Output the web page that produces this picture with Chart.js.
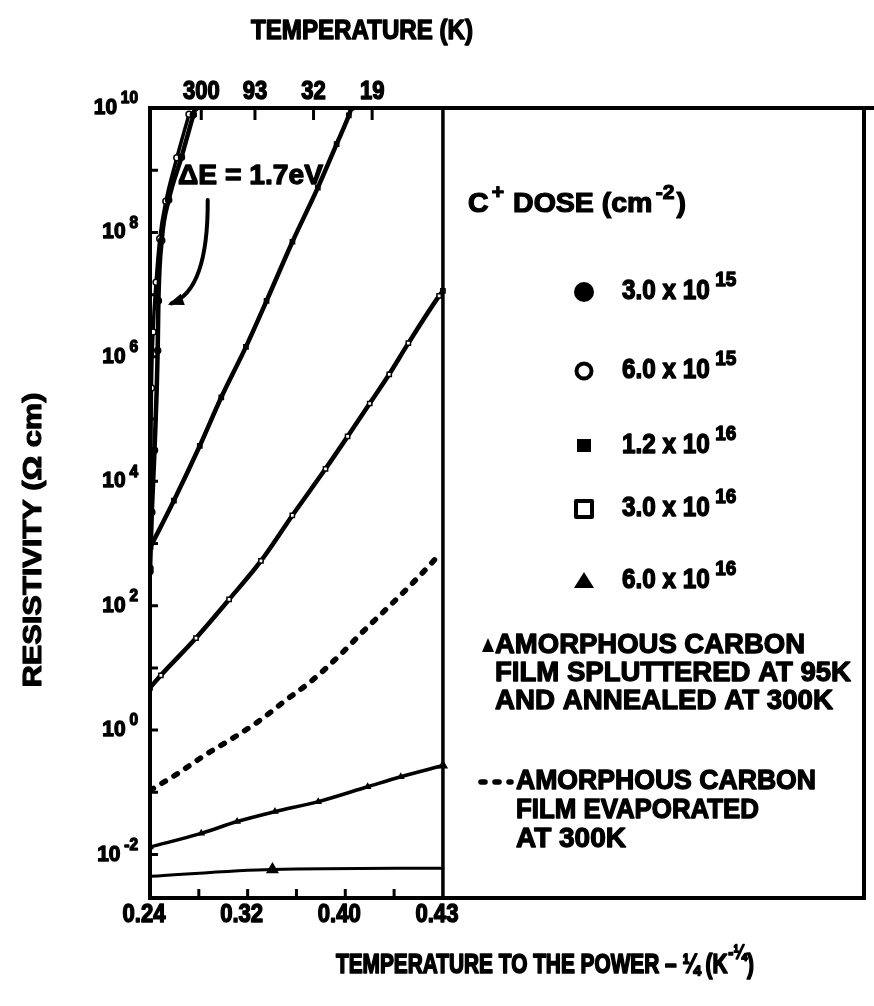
<!DOCTYPE html>
<html>
<head>
<meta charset="utf-8">
<title>Resistivity vs T^-1/4</title>
<script src="https://cdn.jsdelivr.net/npm/chart.js@4.4.1/dist/chart.umd.min.js"></script>
<style>
  html, body { margin: 0; padding: 0; background: #fff; }
  #wrap { position: relative; width: 874px; height: 1006px; }
</style>
</head>
<body>
<div id="wrap"><canvas id="c"></canvas></div>
<script>
// Values. x = T^-1/4 (K^-1/4), y given as log10 of resistivity (ohm cm).
const X_MIN = 0.24, X_EDGE = 0.48, X_MAX = 0.825;
const Y_MIN = 2e-3, Y_MAX = 1e10;

// 3.0e15 (filled circles) and 6.0e15 (open circles): the two steep curves at the left
const xDose1 = [0.2400, 0.2415, 0.2437, 0.2463, 0.2469, 0.2496, 0.2553, 0.2658, 0.2755, 0.2770];
const logDose1 = [2.55, 3.5, 4.5, 6.1, 6.9, 7.87, 8.52, 9.21, 9.89, 10.0];
const xDose2 = [0.2400, 0.2405, 0.2412, 0.2425, 0.2450, 0.2480, 0.2530, 0.2620, 0.2720];
const logDose2 = [2.6, 4.0, 5.5, 6.4, 7.2, 7.9, 8.5, 9.2, 9.9];
// 1.2e16 (filled squares)
const xDose3 = [0.2405, 0.2596, 0.2808, 0.2984, 0.3186, 0.3355, 0.3567, 0.3775, 0.3929, 0.4029, 0.4050];
const logDose3 = [2.95, 3.69, 4.57, 5.35, 6.16, 6.90, 7.85, 8.72, 9.42, 9.88, 10.0];
// 3.0e16 (open squares)
const xDose4 = [0.2400, 0.2489, 0.2777, 0.3048, 0.3309, 0.3566, 0.3838, 0.4019, 0.4200, 0.4360, 0.4517, 0.4769, 0.4800];
const logDose4 = [0.68, 0.88, 1.48, 2.10, 2.72, 3.45, 4.20, 4.72, 5.25, 5.72, 6.22, 6.98, 7.06];
// 6.0e16 (triangles)
const xDose5 = [0.2400, 0.2820, 0.3114, 0.3424, 0.3778, 0.4183, 0.4455, 0.4800];
const logDose5 = [-1.88, -1.66, -1.47, -1.31, -1.15, -0.91, -0.75, -0.57];
// amorphous carbon, sputtered at 95K, annealed at 300K
const xSputter = [0.2400, 0.3403, 0.4800];
const logSputter = [-2.35, -2.24, -2.22];
// amorphous carbon, evaporated at 300K (dashed)
const xEvap = [0.2400, 0.2618, 0.2860, 0.3078, 0.3288, 0.3506, 0.3723, 0.3963, 0.4148, 0.4365, 0.4570, 0.4723, 0.4760];
const logEvap = [-0.97, -0.71, -0.39, -0.13, 0.14, 0.47, 0.79, 1.22, 1.59, 2.00, 2.40, 2.72, 2.80];

// axes
const yTickExp = ['-2', '0', '2', '4', '6', '8', '10'];
const yMinorExp = [-2, -1, 0, 1, 2, 3, 4, 5, 6, 7, 8, 9];
const xTickVals = [0.24, 0.32, 0.40, 0.48];
const xTickLabels = ['0.24', '0.32', '0.40', '0.43'];
const xMinorVals = [0.28, 0.32, 0.36, 0.40, 0.44];
const tempTickVals = [0.282, 0.326, 0.374, 0.422];
const tempTickLabels = ['300', '93', '32', '19'];

// legend text
const doseLabels = ['3.0 x 10', '6.0 x 10', '1.2 x 10', '3.0 x 10', '6.0 x 10'];
const doseExps = ['15', '15', '16', '16', '16'];
const sputterLines = ['AMORPHOUS CARBON', 'FILM SPLUTTERED AT 95K', 'AND ANNEALED AT 300K'];
const evapLines = ['AMORPHOUS CARBON', 'FILM EVAPORATED', 'AT 300K'];

const FONT = "'Liberation Sans', Arial, sans-serif";
const INK = '#000';
const DOTS = [4, 10]; // short round-capped dashes of the evaporated-film curve

const pts = (xs, logs) => xs.map((x, i) => ({ x, y: Math.pow(10, logs[i]) }));

function curve(xs, logs, extra) {
  return Object.assign({
    data: pts(xs, logs), borderColor: INK, borderWidth: 4.5, tension: 0.3,
    cubicInterpolationMode: 'monotone', pointRadius: 3, pointBorderWidth: 1.5,
    pointBackgroundColor: INK, pointBorderColor: INK,
    borderCapStyle: 'round', borderJoinStyle: 'round',
  }, extra || {});
}

// heavy bold text in runs (base + superscripts), optionally squeezed to a width
function txt(ctx, runs, x, y, o) {
  const size = o.size, supK = o.sup || 0.74;
  const parts = runs.map(r => {
    const s = r.sup ? size * supK : size;
    ctx.font = 'bold ' + s + 'px ' + FONT;
    return { t: r.t, s, w: ctx.measureText(r.t).width, pre: r.pre || 0, dy: r.sup ? -size * 0.42 : 0 };
  });
  const nat = parts.reduce((a, p) => a + p.pre + p.w, 0);
  const sx = o.width ? o.width / nat : (o.sx || 1);
  const total = nat * sx;
  const x0 = o.align === 'center' ? x - total / 2 : o.align === 'right' ? x - total : x;
  ctx.save();
  ctx.translate(x0, y);
  ctx.scale(sx, 1);
  ctx.fillStyle = INK; ctx.strokeStyle = INK;
  ctx.lineWidth = (o.heavy == null ? 1.3 : o.heavy) / sx;
  ctx.lineJoin = 'round';
  ctx.textBaseline = 'middle';
  ctx.textAlign = 'left';
  let cx = 0;
  for (const p of parts) {
    cx += p.pre;
    ctx.font = 'bold ' + p.s + 'px ' + FONT;
    ctx.fillText(p.t, cx, p.dy);
    ctx.strokeText(p.t, cx, p.dy);
    cx += p.w;
  }
  ctx.restore();
}

function marker(ctx, kind, x, y) {
  ctx.save();
  ctx.fillStyle = INK; ctx.strokeStyle = INK; ctx.lineWidth = 4;
  ctx.beginPath();
  if (kind === 'dot') { ctx.arc(x, y, 10, 0, Math.PI * 2); ctx.fill(); }
  else if (kind === 'ring') { ctx.arc(x, y, 7.5, 0, Math.PI * 2); ctx.stroke(); }
  else if (kind === 'block') { ctx.fillRect(x - 7, y - 7, 14, 13); }
  else if (kind === 'box') { ctx.lineJoin = 'round'; ctx.strokeRect(x - 8, y - 8, 16, 16); }
  else if (kind === 'tri') { ctx.moveTo(x, y - 9); ctx.lineTo(x + 10, y + 7); ctx.lineTo(x - 10, y + 7); ctx.closePath(); ctx.fill(); }
  else if (kind === 'triSmall') { ctx.moveTo(x, y - 8); ctx.lineTo(x + 6, y + 6); ctx.lineTo(x - 6, y + 6); ctx.closePath(); ctx.fill(); }
  ctx.restore();
}

const legendMarkers = ['dot', 'ring', 'block', 'box', 'tri'];
const LEG = { markerX: 584, textX: 622, rowY: [292, 371, 446, 509, 581] };

const scanFrame = {
  id: 'scanFrame',
  beforeDraw(chart) {
    const c = chart.ctx;
    c.save(); c.fillStyle = '#fff'; c.fillRect(0, 0, chart.width, chart.height); c.restore();
  },
  afterDatasetsDraw(chart) {
    const c = chart.ctx, a = chart.chartArea;
    const xs = chart.scales.x, ys = chart.scales.y;
    c.save();
    c.strokeStyle = INK; c.lineCap = 'butt';

    // frame
    c.lineWidth = 4;
    c.beginPath();
    c.moveTo(chart.width, a.top); c.lineTo(a.left, a.top); c.lineTo(a.left, a.bottom);
    c.lineTo(a.right, a.bottom); c.lineTo(a.right, a.top);
    c.stroke();
    // edge of the data region
    const xe = xs.getPixelForValue(X_EDGE);
    c.lineWidth = 3.5;
    c.beginPath(); c.moveTo(xe, a.top); c.lineTo(xe, a.bottom); c.stroke();

    // inward ticks
    c.lineWidth = 3;
    c.beginPath();
    yMinorExp.forEach(e => { const y = ys.getPixelForValue(Math.pow(10, e)); c.moveTo(a.left, y); c.lineTo(a.left + 8, y); });
    xMinorVals.forEach(v => { const x = xs.getPixelForValue(v); c.moveTo(x, a.bottom); c.lineTo(x, a.bottom - 9); });
    tempTickVals.forEach(v => { const x = xs.getPixelForValue(v); c.moveTo(x, a.top); c.lineTo(x, a.top + 12); });
    c.stroke();

    // tick labels
    yTickExp.forEach(e => {
      const y = ys.getPixelForValue(Math.pow(10, Number(e)));
      txt(c, [{ t: '10' }, { t: e, sup: true, pre: 4 }], 138, y, { size: 22, align: 'right', sx: 0.95 });
    });
    xTickVals.forEach((v, i) => {
      txt(c, [{ t: xTickLabels[i] }], xs.getPixelForValue(v) - 6, 915, { size: 25, align: 'center', width: 43 });
    });
    tempTickVals.forEach((v, i) => {
      txt(c, [{ t: tempTickLabels[i] }], xs.getPixelForValue(v), 92, { size: 25, align: 'center', sx: 0.88 });
    });

    // axis titles
    txt(c, [{ t: 'TEMPERATURE (K)' }], 362, 32, { size: 27, align: 'center', width: 222 });
    txt(c, [{ t: 'TEMPERATURE TO THE POWER \u2013 \u00bc (K' }, { t: '-\u00bc', sup: true, pre: 1 }, { t: ')', pre: 1 }],
      545, 965, { size: 28, align: 'center', width: 418 });
    c.save();
    c.translate(34, 540); c.rotate(-Math.PI / 2);
    txt(c, [{ t: 'RESISTIVITY (\u03a9 cm)' }], 0, 0, { size: 26, align: 'center', width: 295 });
    c.restore();

    // activation energy note with curved arrow
    txt(c, [{ t: '\u0394E = 1.7eV' }], xs.getPixelForValue(0.263), ys.getPixelForValue(Math.pow(10, 8.9)),
      { size: 28, width: 145 });
    const p0 = [xs.getPixelForValue(0.2873), ys.getPixelForValue(Math.pow(10, 8.52))];
    const pc = [xs.getPixelForValue(0.2877), ys.getPixelForValue(Math.pow(10, 7.07))];
    const p1 = [xs.getPixelForValue(0.2576), ys.getPixelForValue(Math.pow(10, 6.86))];
    c.lineWidth = 4; c.lineCap = 'round';
    c.beginPath(); c.moveTo(p0[0], p0[1]); c.quadraticCurveTo(pc[0], pc[1], p1[0], p1[1]); c.stroke();
    const ang = Math.atan2(p1[1] - pc[1], p1[0] - pc[0]);
    c.fillStyle = INK;
    c.beginPath();
    c.moveTo(p1[0] + 4 * Math.cos(ang), p1[1] + 4 * Math.sin(ang));
    c.lineTo(p1[0] - 12 * Math.cos(ang) + 6 * Math.sin(ang), p1[1] - 12 * Math.sin(ang) - 6 * Math.cos(ang));
    c.lineTo(p1[0] - 12 * Math.cos(ang) - 6 * Math.sin(ang), p1[1] - 12 * Math.sin(ang) + 6 * Math.cos(ang));
    c.closePath(); c.fill();

    // legend panel
    txt(c, [{ t: 'C' }, { t: '+', sup: true, pre: 3 }, { t: ' DOSE (cm', pre: 1 }, { t: '-2', sup: true, pre: 3 }, { t: ')', pre: 2 }],
      468, 205, { size: 27, width: 218 });
    doseLabels.forEach((lab, i) => {
      const y = LEG.rowY[i];
      marker(c, legendMarkers[i], LEG.markerX, y);
      txt(c, [{ t: lab }, { t: doseExps[i], sup: true, pre: 6 }], LEG.textX, y, { size: 27, sx: 0.9, sup: 0.78 });
    });
    marker(c, 'triSmall', 488, 646);
    sputterLines.forEach((s, i) => {
      txt(c, [{ t: s }], 495, 646 + i * 28, { size: 27, width: [310, 356, 338][i] });
    });
    c.setLineDash(DOTS); c.lineWidth = 5.5; c.lineCap = 'round';
    c.beginPath(); c.moveTo(481, 782); c.lineTo(511, 782); c.stroke();
    c.setLineDash([]);
    evapLines.forEach((s, i) => {
      txt(c, [{ t: s }], 516, 782 + i * 29, { size: 27, width: [300, 243, 110][i] });
    });
    c.restore();
  },
};

const datasets = [
  curve(xDose1, logDose1, { pointStyle: 'circle' }),
  curve(xDose2, logDose2, { pointStyle: 'circle', pointBackgroundColor: '#fff', borderWidth: 3.5 }),
  curve(xDose3, logDose3, { pointStyle: 'rect' }),
  curve(xDose4, logDose4, { pointStyle: 'rect', pointBackgroundColor: '#fff' }),
  curve(xDose5, logDose5, { pointStyle: 'triangle', borderWidth: 3.5, pointRadius: [3, 3, 3, 3, 3, 3, 3, 4.5] }),
  curve(xSputter, logSputter, { pointStyle: 'triangle', borderWidth: 3, tension: 0, pointRadius: [0, 6, 0] }),
  curve(xEvap, logEvap, { borderWidth: 5.5, borderDash: DOTS, pointRadius: 0 }),
];

new Chart(document.getElementById('c'), {
  type: 'line',
  data: { datasets },
  options: {
    responsive: true, maintainAspectRatio: false, animation: false,
    layout: { padding: { left: 150, top: 108, right: 10, bottom: 108 } },
    plugins: { legend: { display: false }, tooltip: { enabled: false } },
    scales: {
      x: { type: 'linear', min: X_MIN, max: X_MAX, display: false },
      y: { type: 'logarithmic', min: Y_MIN, max: Y_MAX, display: false },
    },
  },
  plugins: [scanFrame],
});
</script>
</body>
</html>
